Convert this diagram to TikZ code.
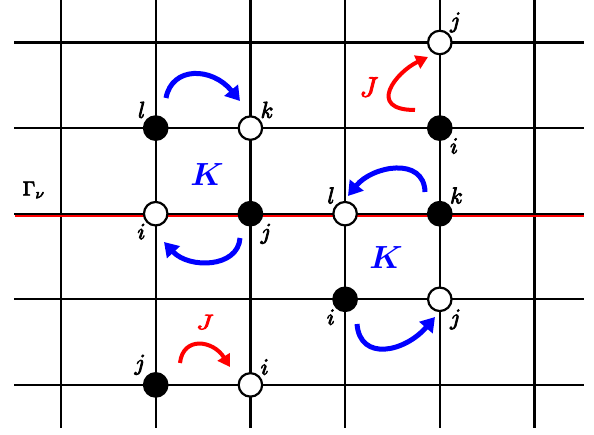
\documentclass[tikz,border=0pt]{standalone}
\usepackage{amsmath}
\usepackage{graphicx}
\usetikzlibrary{arrows.meta}

\newcommand{\thick}[1]{\special{pdf:literal direct 2 Tr 0.35 w}#1\special{pdf:literal direct 0 Tr}}
\newcommand{\sitelab}[1]{\scalebox{2.3}{\thick{$#1$}}}

\begin{document}
\begin{tikzpicture}[
  x=1pt, y=-1pt,
  bond/.style={line width=2.3pt},
  site/.style={circle, draw, line width=2.2pt, minimum size=23.5pt, inner sep=0pt},
  occ/.style={site, fill=black},
  vac/.style={site, fill=white},
  lbl/.style={inner sep=1pt},
  kring/.style={-{Triangle[length=14pt,width=17pt]}, line width=5pt, blue},
  jhop/.style={-{Triangle[length=12pt,width=14pt]}, line width=4pt, red}
]
\useasboundingbox (0,0) rectangle (594,435);

% lattice
\foreach \x in {61,155.7,250.4,345.1,439.8,534.5}
  \draw[bond] (\x,0) -- (\x,428);
\draw[red, line width=2.5pt] (15,216) -- (584,216);
\foreach \y in {42.5,128.1,213.7,299.3,384.9}
  \draw[bond] (14,\y) -- (584,\y);
\node (gam) at (34,190) {\scalebox{2}{\thick{$\Gamma_\nu$}}};

% left plaquette
\node[occ, label={[lbl]135:\sitelab{l}}] (pl) at (155.7,128.1) {};
\node[vac, label={[lbl]45:\sitelab{k}}] (pk) at (250.4,128.1) {};
\node[vac, label={[lbl]225:\sitelab{i}}] (pi) at (155.7,213.7) {};
\node[occ, label={[lbl]315:\sitelab{j}}] (pj) at (250.4,213.7) {};
\node[blue] (kl) at (207,175) {\scalebox{3.2}{$\boldsymbol{K}$}};

% right plaquette
\node[vac, label={[lbl]135:\sitelab{l}}] (ql) at (345.1,213.7) {};
\node[occ, label={[lbl]45:\sitelab{k}}] (qk) at (439.8,213.7) {};
\node[occ, label={[lbl]225:\sitelab{i}}] (qi) at (345.1,299.3) {};
\node[vac, label={[lbl]315:\sitelab{j}}] (qj) at (439.8,299.3) {};
\node[blue] (kr) at (386,258) {\scalebox{3.2}{$\boldsymbol{K}$}};

% hopping bonds
\node[vac, label={[lbl]45:\sitelab{j}}] (uj) at (439.8,42.5) {};
\node[occ, label={[lbl]315:\sitelab{i}}] (ui) at (439.8,128.1) {};
\node[red] (ju) at (369,87) {\scalebox{2.8}{\thick{$J$}}};
\node[occ, label={[lbl]135:\sitelab{j}}] (dj) at (155.7,384.9) {};
\node[vac, label={[lbl]45:\sitelab{i}}] (di) at (250.4,384.9) {};
\node[red] (jd) at (205,322) {\scalebox{2.6}[2.1]{\thick{$J$}}};

% ring and hop arrows
\coordinate (a1) at (166,98);   \coordinate (b1) at (240,101);
\coordinate (a2) at (240,238);  \coordinate (b2) at (164,242);
\coordinate (a3) at (425,192);  \coordinate (b3) at (348,196);
\coordinate (a4) at (357,324);  \coordinate (b4) at (435,317);
\coordinate (a5) at (415,110);  \coordinate (b5) at (428,57);
\coordinate (a6) at (180,363);  \coordinate (b6) at (230,367);
\draw[kring] (a1) .. controls (172,66) and (212,67) .. (b1);
\draw[kring] (a2) .. controls (238,268) and (189,269) .. (b2);
\draw[kring] (a3) .. controls (424,156) and (372,166) .. (b3);
\draw[kring] (a4) .. controls (360,362) and (405,352) .. (b4);
\draw[jhop] (a5) .. controls (366,110) and (396,72) .. (b5);
\draw[jhop] (a6) .. controls (183,336) and (213,340) .. (b6);
\end{tikzpicture}
\end{document}
